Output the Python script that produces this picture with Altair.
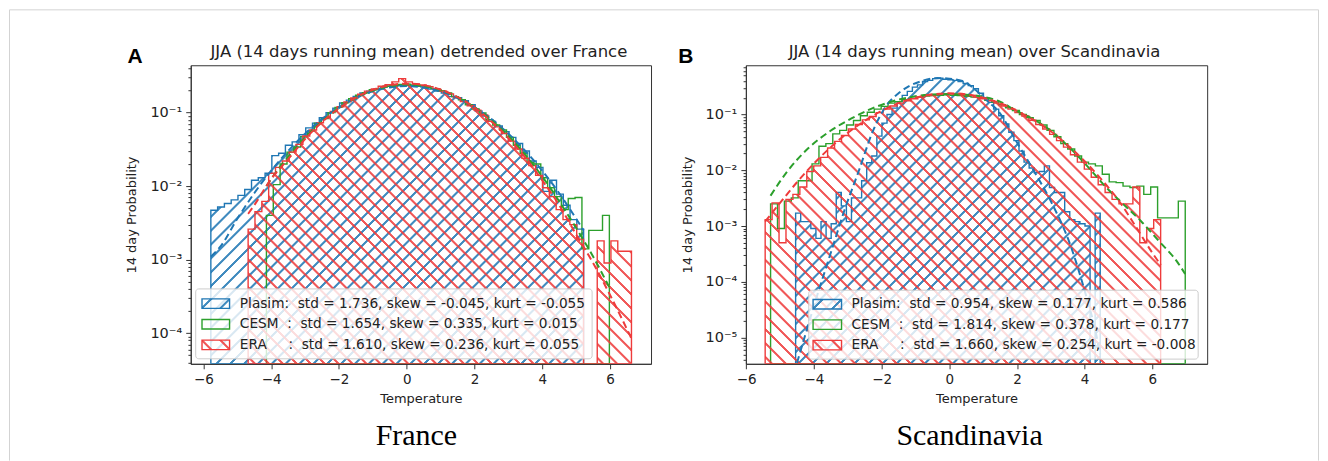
import math
import altair as alt
import pandas as pd

# ---------------- data ----------------
# Panel A (France): histogram first edge, bin width, bin probabilities
fr_plasim_start, fr_plasim_width = -5.78, 0.2
fr_plasim = [0.0047, 0.0052, 0.0058, 0.0065, 0.0075, 0.0090, 0.012, 0.013, 0.015, 0.026,
             0.028, 0.036, 0.040, 0.050, 0.062, 0.072, 0.085, 0.100, 0.115, 0.135,
             0.148, 0.166, 0.185, 0.196, 0.208, 0.222, 0.228, 0.232, 0.236, 0.233,
             0.228, 0.222, 0.210, 0.196, 0.184, 0.165, 0.160, 0.145, 0.128, 0.105,
             0.090, 0.076, 0.066, 0.055, 0.046, 0.038, 0.030, 0.022, 0.018, 0.0085,
             0.012, 0.0078, 0.0055, 0.0035, 0.0026]
fr_cesm_start, fr_cesm_width = -4.14, 0.2024
fr_cesm = [0.0040, 0.0105, 0.020, 0.029, 0.034, 0.047, 0.056, 0.072, 0.083, 0.100,
           0.118, 0.136, 0.155, 0.172, 0.186, 0.205, 0.212, 0.228, 0.236, 0.242,
           0.244, 0.238, 0.232, 0.222, 0.212, 0.198, 0.185, 0.165, 0.150, 0.128,
           0.112, 0.099, 0.080, 0.068, 0.058, 0.046, 0.036, 0.028, 0.021, 0.020,
           0.013, 0.0095, 0.0072, 0.0048, 0.0068, 0.0070, 0.0014, 0.0025, 0.0025, 0.0040]
fr_era_start, fr_era_width = -4.68, 0.202
fr_era = [0.0026, 0.0045, 0.0062, 0.015, 0.018, 0.022, 0.029, 0.037, 0.048, 0.058,
          0.073, 0.086, 0.104, 0.120, 0.140, 0.158, 0.178, 0.196, 0.210, 0.228,
          0.240, 0.262, 0.290, 0.262, 0.245, 0.238, 0.226, 0.212, 0.196, 0.180,
          0.160, 0.142, 0.124, 0.108, 0.093, 0.076, 0.064, 0.052, 0.041, 0.032,
          0.024, 0.019, 0.014, 0.0095, 0.0072, 0.0048, 0.0035, 0.0030, 0.0019, 0,
          0, 0.0018, 0.0009, 0.0018, 0.0013, 0.0013]
# Panel A fitted (dashed) curves
fr_plasim_fit_x = [-5.78, -5.5, -5.0, -4.5, -4.0, -3.5, -3.0, -2.5, -2.0, -1.5, -1.0, -0.5,
                   0.0, 0.5, 1.0, 1.5, 2.0, 2.5, 3.0, 3.5, 4.0, 4.5, 5.0, 5.22]
fr_plasim_fit_p = [0.0011, 0.0015, 0.0036, 0.0080, 0.0162, 0.0301, 0.0516, 0.0815, 0.118, 0.158,
                   0.195, 0.220, 0.230, 0.220, 0.195, 0.158, 0.118, 0.0815, 0.0516, 0.0301,
                   0.0162, 0.0080, 0.0036, 0.0025]
fr_cesm_fit_x = [-4.14, -4.0, -3.5, -3.0, -2.5, -2.0, -1.5, -1.0, -0.5, 0.0, 0.5, 1.0, 1.5,
                 2.0, 2.5, 3.0, 3.5, 4.0, 4.5, 5.0, 5.5, 5.98]
fr_cesm_fit_p = [0.0100, 0.0125, 0.0250, 0.0455, 0.0760, 0.115, 0.159, 0.200, 0.229, 0.241,
                 0.231, 0.203, 0.162, 0.118, 0.079, 0.048, 0.0265, 0.0135, 0.0062, 0.0027,
                 0.0011, 0.00042]
fr_era_fit_x = [-4.68, -4.5, -4.0, -3.5, -3.0, -2.5, -2.0, -1.5, -1.0, -0.5, 0.0, 0.5, 1.0,
                1.5, 2.0, 2.5, 3.0, 3.5, 4.0, 4.5, 5.0, 5.5, 6.0, 6.63]
fr_era_fit_p = [0.0042, 0.0055, 0.0125, 0.0233, 0.0437, 0.0742, 0.1146, 0.160, 0.204, 0.236,
                0.248, 0.237, 0.206, 0.162, 0.117, 0.0760, 0.0450, 0.0245, 0.0120, 0.0055,
                0.0022, 0.0009, 0.00033, 0.000085]

# Panel B (Scandinavia)
sc_plasim_start, sc_plasim_width = -4.54, 0.15
sc_plasim = [0.0017, 0.0012, 0.0012, 0.0009, 0.0006, 0.0012, 0.0006, 0.0011, 0.0040, 0.0023,
             0.0012, 0.0032, 0.0032, 0.0065, 0.0136, 0.018, 0.041, 0.070, 0.100, 0.130,
             0.170, 0.220, 0.260, 0.310, 0.340, 0.390, 0.410, 0.440, 0.450, 0.430,
             0.420, 0.410, 0.390, 0.360, 0.330, 0.290, 0.240, 0.200, 0.165, 0.125,
             0.095, 0.068, 0.048, 0.034, 0.022, 0.014, 0.011, 0.009, 0.0095, 0.012,
             0.0049, 0.0040, 0.0040, 0.0018, 0.0013, 0.0012, 0.0011, 0.0010, 0, 0.0017]
sc_cesm_start, sc_cesm_width = -5.28, 0.2042
sc_cesm = [0.0025, 0.0009, 0.0028, 0.0032, 0.0065, 0.0065, 0.013, 0.027, 0.030, 0.045,
           0.052, 0.065, 0.078, 0.095, 0.110, 0.125, 0.140, 0.160, 0.170, 0.185,
           0.195, 0.205, 0.215, 0.218, 0.222, 0.225, 0.222, 0.218, 0.212, 0.205,
           0.195, 0.180, 0.168, 0.150, 0.132, 0.118, 0.100, 0.088, 0.078, 0.065,
           0.052, 0.040, 0.030, 0.024, 0.018, 0.014, 0.013, 0.012, 0.0085, 0.0062,
           0.0060, 0.0052, 0.0049, 0.0052, 0.0037, 0.0050, 0.0014, 0.0014, 0.0014, 0.0028]
sc_era_start, sc_era_width = -5.44, 0.205
sc_era = [0.0013, 0.0026, 0.0005, 0.0030, 0.0037, 0.0050, 0.0095, 0.012, 0.017, 0.025,
          0.033, 0.042, 0.055, 0.066, 0.080, 0.092, 0.108, 0.125, 0.142, 0.160,
          0.176, 0.192, 0.205, 0.218, 0.226, 0.234, 0.236, 0.232, 0.226, 0.218,
          0.205, 0.192, 0.176, 0.160, 0.142, 0.125, 0.108, 0.094, 0.079, 0.066,
          0.055, 0.044, 0.034, 0.026, 0.019, 0.014, 0.0105, 0.0075, 0.0055, 0.0040,
          0.0030, 0.0025, 0.0025, 0.0050, 0.0005, 0.0009, 0.0013]
sc_plasim_fit_x = [-4.5, -3.95, -3.42, -3.1, -2.68, -2.26, -1.84, -1.5, -1.2, -0.8, -0.35, 0.0,
                   0.39, 0.65, 0.92, 1.2, 1.45, 1.98, 2.51, 3.04, 3.57, 4.0, 4.32, 4.46]
sc_plasim_fit_p = [3.5e-6, 4.6e-5, 4.7e-4, 1.9e-3, 9.5e-3, 0.050, 0.15, 0.24, 0.32, 0.40, 0.45,
                   0.44, 0.40, 0.32, 0.23, 0.16, 0.115, 0.033, 0.0095, 0.0025, 4.7e-4, 6.9e-5,
                   1.3e-5, 5e-6]
sc_cesm_fit_x = [-5.28, -4.79, -4.16, -3.53, -2.89, -2.26, -1.6, -1.0, -0.5, 0.0, 0.5, 1.0, 1.5,
                 1.96, 2.49, 3.02, 3.54, 4.07, 4.6, 5.13, 5.66, 6.19, 6.72, 6.97]
sc_cesm_fit_p = [0.0035, 0.0095, 0.025, 0.050, 0.085, 0.130, 0.178, 0.212, 0.228, 0.232, 0.226,
                 0.208, 0.170, 0.118, 0.082, 0.050, 0.026, 0.012, 0.0052, 0.0025, 0.00123,
                 0.00054, 0.000234, 0.000138]
sc_era_fit_x = [-5.44, -5.0, -4.5, -4.0, -3.5, -3.0, -2.5, -2.0, -1.5, -1.0, -0.5, 0.0, 0.5,
                1.0, 1.5, 2.0, 2.5, 3.0, 3.5, 4.0, 4.5, 5.0, 5.5, 6.0, 6.25]
sc_era_fit_p = [0.0012, 0.0026, 0.0061, 0.0132, 0.026, 0.047, 0.077, 0.116, 0.160, 0.200, 0.230,
                0.240, 0.230, 0.200, 0.160, 0.116, 0.079, 0.050, 0.028, 0.0145, 0.0068, 0.0029,
                0.0010, 0.00033, 0.00020]

NB = "\u00a0"
fr_legend = ["Plasim:" + NB * 2 + "std = 1.736, skew = -0.045, kurt = -0.055",
             "CESM" + NB * 2 + ":" + NB * 2 + "std = 1.654, skew = 0.335, kurt = 0.015",
             "ERA" + NB * 5 + ":" + NB * 2 + "std = 1.610, skew = 0.236, kurt = 0.055"]
sc_legend = ["Plasim:" + NB * 2 + "std = 0.954, skew = 0.177, kurt = 0.586",
             "CESM" + NB * 2 + ":" + NB * 2 + "std = 1.814, skew = 0.378, kurt = 0.177",
             "ERA" + NB * 5 + ":" + NB * 2 + "std = 1.660, skew = 0.254, kurt = -0.008"]
fr_title = "JJA (14 days running mean) detrended over France"
sc_title = "JJA (14 days running mean) over Scandinavia"
x_ticks = [-6, -4, -2, 0, 2, 4, 6]

# ---------------- styling ----------------
PH = 299
BLUE = (31, 119, 180)
GREEN = (44, 160, 44)
RED = (238, 59, 59)
FONT = "DejaVu Sans"
TXT = "#222222"


def hexc(c):
    return "#%02x%02x%02x" % c


def hatch(rgb, direction, W, H, period=9.9, lw=1.4, alpha=0.85):
    r, g, b = rgb
    on = f"rgba({r},{g},{b},{alpha})"
    off = f"rgba({r},{g},{b},0)"
    total = (W + H) / math.sqrt(2)
    n = max(1, round(total / period))
    s = (W + H) / (W * W + H * H)
    if direction == "/":
        x1, y1, x2, y2 = 0, 0, s * W, s * H
    else:
        x1, y1, x2, y2 = 0, 1, s * W, 1 - s * H
    hw = 0.5 * lw / total
    soft = 0.7 / total
    stops = [(0.0, off)]
    for k in range(n):
        c = (k + 0.5) / n
        stops += [(c - hw - soft, off), (c - hw, on), (c + hw, on), (c + hw + soft, off)]
    stops.append((1.0, off))
    last = 0.0
    out = []
    for o, col in stops:
        o = min(1.0, max(last, o))
        last = o
        out.append(alt.GradientStop(color=col, offset=round(o, 6)))
    return alt.LinearGradient(gradient="linear", stops=out, x1=x1, y1=y1,
                              x2=round(x2, 6), y2=round(y2, 6))


def y_axis(ydom):
    vals = []
    for e in range(-7, 1):
        for k in range(1, 10):
            v = float(f"{k}e{e}")
            if ydom[0] <= v <= ydom[1]:
                vals.append(v)
    major = "abs(log(datum.value)/LN10 - round(log(datum.value)/LN10)) < 0.001"
    lab = (f"{major} ? '10' + ['\u2070','\u207b\u00b9','\u207b\u00b2','\u207b\u00b3',"
           f"'\u207b\u2074','\u207b\u2075','\u207b\u2076','\u207b\u2077']"
           f"[-round(log(datum.value)/LN10)] : ''")
    return alt.Axis(title="14 day Probability", values=vals, labelExpr=lab,
                    tickSize={"condition": {"test": major, "value": 5}, "value": 2.8},
                    tickColor="#333", domainColor="#333", labelOverlap=False,
                    labelFontSize=14.5, titleFontSize=13, labelFont=FONT, titleFont=FONT,
                    labelColor=TXT, titleColor=TXT, titleFontWeight="normal",
                    labelPadding=4, titlePadding=11, grid=False)


def x_axis():
    return alt.Axis(title="Temperature", values=x_ticks, tickSize=5, tickColor="#333",
                    domainColor="#333", labelFlush=False, labelOverlap=False,
                    labelFontSize=13.5, titleFontSize=13, labelFont=FONT, titleFont=FONT,
                    labelColor=TXT, titleColor=TXT, titleFontWeight="normal",
                    labelPadding=4, titlePadding=6, grid=False)


def one(v):
    return pd.DataFrame({"t": [v]})


def panel(cfg):
    pw, xdom, ydom = cfg["pw"], cfg["xdom"], cfg["ydom"]
    xs = alt.Scale(domain=xdom, nice=False, zero=False)
    ys = alt.Scale(type="log", domain=ydom, nice=False)
    xa, ya = x_axis(), y_axis(ydom)
    lo, hi = math.log10(ydom[0]), math.log10(ydom[1])
    layers = []

    if cfg.get("border"):
        bx0, bx1, by0, by1 = -181.5, 1129.5, -55.5, 396
        for (a, b, c, d) in [(bx0, bx0, by0, by1), (bx1, bx1, by0, by1), (bx0, bx1, by0, by0)]:
            layers.append(alt.Chart(one(0)).mark_rule(color="#d3d3d3", strokeWidth=1).encode(
                x=alt.value(a), x2=alt.value(b), y=alt.value(c), y2=alt.value(d)))

    for start, width, vals, rgb, hd in cfg["hists"]:
        n = len(vals)
        edges = [round(start + width * i, 4) for i in range(n + 1)]
        df = pd.DataFrame({"x": edges, "p": list(vals) + [vals[-1]]})
        W = (edges[-1] - edges[0]) * pw / (xdom[1] - xdom[0])
        H = PH * (math.log10(max(vals)) - lo) / (hi - lo)
        kw = dict(interpolate="step-after", stroke=hexc(rgb), strokeWidth=1.4, clip=True)
        if hd:
            kw["fill"] = hatch(rgb, hd, W, H)
        else:
            kw["fillOpacity"] = 0
        layers.append(alt.Chart(df).transform_calculate(py=f"max(datum.p, {ydom[0]})")
                      .mark_area(**kw).encode(
                          x=alt.X("x:Q", scale=xs, axis=xa),
                          y=alt.Y("py:Q", scale=ys, axis=ya),
                          y2=alt.datum(ydom[0])))

    for fx, fp, rgb in cfg["fits"]:
        df = pd.DataFrame({"x": fx, "p": fp})
        layers.append(alt.Chart(df).mark_line(color=hexc(rgb), strokeWidth=2, strokeDash=[7, 4],
                                              clip=True, interpolate="monotone").encode(
            x=alt.X("x:Q", scale=xs, axis=xa), y=alt.Y("p:Q", scale=ys, axis=ya)))

    # legend
    lx0, lx1, ly0, ly1 = cfg["legend_box"]
    layers.append(alt.Chart(one(0)).mark_rect(fill="white", fillOpacity=0.8, stroke="#cccccc",
                                              strokeWidth=1, cornerRadius=3).encode(
        x=alt.value(lx0), x2=alt.value(lx1), y=alt.value(ly0), y2=alt.value(ly1)))
    px0, px1 = cfg["patch_x"]
    for (label, rgb, hd), yc in zip(cfg["legend"], cfg["rows"]):
        kw = dict(stroke=hexc(rgb), strokeWidth=1.4)
        if hd:
            kw["fill"] = hatch(rgb, hd, px1 - px0, 9.5, period=12)
        else:
            kw["fillOpacity"] = 0
        layers.append(alt.Chart(one(0)).mark_rect(**kw).encode(
            x=alt.value(px0), x2=alt.value(px1), y=alt.value(yc - 4.75), y2=alt.value(yc + 4.75)))
        layers.append(alt.Chart(one(label)).mark_text(
            x=cfg["text_x"], y=yc, align="left", baseline="middle", font=FONT,
            fontSize=13.7, color=TXT).encode(text="t:N"))

    # texts
    layers.append(alt.Chart(one(cfg["title"])).mark_text(
        x=cfg["title_x"], y=-8, align="center", baseline="alphabetic", font=FONT,
        fontSize=16.5, color=TXT).encode(text="t:N"))
    layers.append(alt.Chart(one(cfg["letter"])).mark_text(
        x=cfg["letter_x"], y=-2.3, align="center", baseline="alphabetic",
        font="Liberation Sans", fontWeight="bold", fontSize=21, color="#000").encode(text="t:N"))
    layers.append(alt.Chart(one(cfg["name"])).mark_text(
        x=cfg["name_x"], y=380, align="center", baseline="alphabetic",
        font="Liberation Serif", fontSize=30, color="#000").encode(text="t:N"))

    return alt.layer(*layers).properties(width=pw, height=PH)


panel_a = panel(dict(
    pw=461, xdom=[-6.374, 7.209], ydom=[3.83e-5, 0.441], border=True,
    hists=[(fr_plasim_start, fr_plasim_width, fr_plasim, BLUE, "/"),
           (fr_cesm_start, fr_cesm_width, fr_cesm, GREEN, None),
           (fr_era_start, fr_era_width, fr_era, RED, "\\")],
    fits=[(fr_plasim_fit_x, fr_plasim_fit_p, BLUE),
          (fr_cesm_fit_x, fr_cesm_fit_p, GREEN),
          (fr_era_fit_x, fr_era_fit_p, RED)],
    legend_box=(5, 402, 224, 294), patch_x=(11.3, 38.9), rows=[238.7, 259.4, 280.0], text_x=49.2,
    legend=[(fr_legend[0], BLUE, "/"), (fr_legend[1], GREEN, None), (fr_legend[2], RED, "\\")],
    title=fr_title, title_x=228.5, letter="A", letter_x=-55.8, name="France", name_x=226))

panel_b = panel(dict(
    pw=462, xdom=[-6.01, 7.62], ydom=[3.38e-6, 0.764],
    hists=[(sc_plasim_start, sc_plasim_width, sc_plasim, BLUE, "/"),
           (sc_cesm_start, sc_cesm_width, sc_cesm, GREEN, None),
           (sc_era_start, sc_era_width, sc_era, RED, "\\")],
    fits=[(sc_plasim_fit_x, sc_plasim_fit_p, BLUE),
          (sc_cesm_fit_x, sc_cesm_fit_p, GREEN),
          (sc_era_fit_x, sc_era_fit_p, RED)],
    legend_box=(63, 453, 225.3, 294.3), patch_x=(67.3, 95.8), rows=[239.3, 259.8, 280.3],
    text_x=105.8,
    legend=[(sc_legend[0], BLUE, "/"), (sc_legend[1], GREEN, None), (sc_legend[2], RED, "\\")],
    title=sc_title, title_x=229, letter="B", letter_x=-60.2, name="Scandinavia", name_x=224))

chart = (alt.hconcat(panel_a, panel_b, spacing=95, bounds="flush")
         .properties(padding=0)
         .configure_view(stroke="#333333", strokeWidth=1))

chart.save("out.html", embed_options={"renderer": "svg", "actions": False})
